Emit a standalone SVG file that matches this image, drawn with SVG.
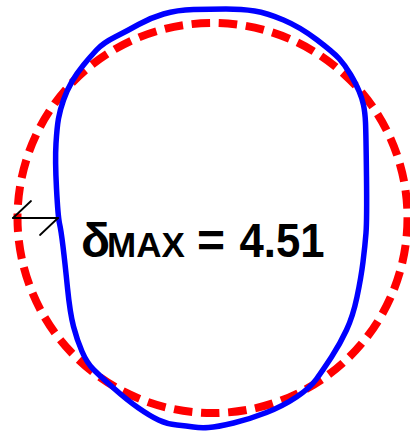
<svg xmlns="http://www.w3.org/2000/svg" width="410" height="433" viewBox="0 0 410 433">
  <style>
    .ref { fill: none; stroke: #ff0000; stroke-width: 8; stroke-dasharray: 18.5 8.7; }
    .def { fill: none; stroke: #0000ff; stroke-width: 5.5; stroke-linejoin: round; }
    .dim { fill: none; stroke: #000000; stroke-width: 1.8; stroke-linecap: round; }
    .lbl { font-family: "Liberation Sans", Arial, sans-serif; font-weight: bold; fill: #000000; }
  </style>
  <rect width="410" height="433" fill="#ffffff"/>
  <g id="reference-circle">
    <circle class="ref" cx="212.5" cy="218" r="195"/>
  </g>
  <g id="deformed-shape">
    <path class="def" d="M193.5,9.5 Q210,9 226,9 Q242,9 254.5,11 Q267,13 283.5,20 Q300,27 316.5,39.5 Q333,52 339,58.5 Q345,65 350.5,74.5 Q356,84 359,91 Q362,98 363.5,105 Q365,112 365.5,122.5 Q366,133 366.5,176.5 Q367,220 366,233 Q365,246 363,262 Q361,278 357,297 Q353,316 346.5,330 Q340,344 331.5,357 Q323,370 316.5,379 Q310,388 296.5,397 Q283,406 266.5,412.5 Q250,419 233.5,423 Q217,427 208.5,427.5 Q200,428 193.5,427 Q187,426 177,425 Q167,424 158.5,420 Q150,416 138.5,408 Q127,400 113.5,388 Q100,376 93.5,369.5 Q87,363 82,351.5 Q77,340 73.5,326.5 Q70,313 67.5,288 Q65,263 63,246.5 Q61,230 59.5,223.5 Q58,217 56.5,188.5 Q55,160 56,143.5 Q57,127 58.5,118.5 Q60,110 63.5,100 Q67,90 72,81.5 Q77,73 83.5,65 Q90,57 96.5,50 Q103,43 115,37 Q127,31 138.5,24.5 Q150,18 163.5,14 Q177,10 193.5,9.5 Z"/>
  </g>
  <g id="connectors">
    <line class="dim" x1="13" y1="218" x2="58" y2="218"/>
    <line class="dim" x1="13" y1="218" x2="31" y2="201"/>
    <line class="dim" x1="58" y1="218" x2="40" y2="235"/>
  </g>
  <g id="label">
    <text class="lbl" x="81" y="257" font-size="48" font-weight="normal">δ</text>
    <text class="lbl" x="107" y="257" font-size="35">MAX</text>
    <text class="lbl" x="197" y="257" font-size="48">=</text>
    <text class="lbl" font-size="48" transform="translate(239.5,257) scale(0.91,1)">4.51</text>
  </g>
</svg>
